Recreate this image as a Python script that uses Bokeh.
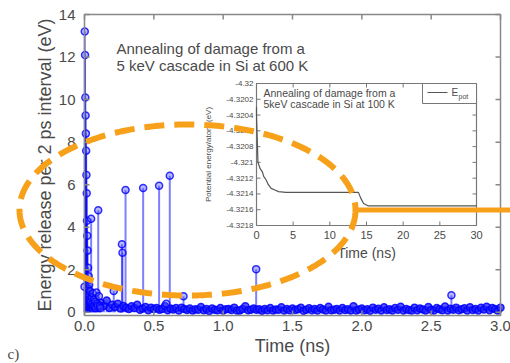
import numpy as np
from bokeh.plotting import figure
from bokeh.models import Range1d
from bokeh.core.properties import value
from bokeh.embed import file_html
from bokeh.resources import INLINE

# ---------------- data ----------------
cluster_t = [0.000, 0.002, 0.004, 0.006, 0.008, 0.010, 0.012, 0.014, 0.016, 0.018,
             0.020, 0.022, 0.024, 0.026, 0.028, 0.030, 0.032, 0.034, 0.036, 0.040,
             0.044, 0.048, 0.052, 0.056, 0.060, 0.064, 0.068, 0.072, 0.076, 0.080,
             0.086, 0.090, 0.094, 0.099, 0.104, 0.110, 0.115]
cluster_e = [1.2, 13.2, 12.1, 10.1, 9.25, 8.4, 7.6, 6.45, 5.6, 4.3,
             3.6, 2.9, 1.5, 2.1, 1.1, 1.7, 0.8, 1.3, 0.6, 1.0,
             0.5, 4.4, 0.7, 0.4, 0.9, 0.3, 0.6, 0.3, 0.5, 0.2,
             0.93, 0.4, 0.3, 4.8, 0.75, 0.3, 0.2]
peak_t = [0.211, 0.270, 0.274, 0.296, 0.423, 0.538, 0.590, 0.615, 0.714, 1.238, 2.646]
peak_e = [1.0, 3.2, 2.8, 5.75, 5.84, 5.95, 0.4, 6.42, 0.76, 2.03, 0.8]
base_start, base_step = 0.12, 0.02
base_e = [0.45, 0.30, 0.55, 0.20, 0.35, 0.25, 0.40, 0.18, 0.30, 0.22,
          0.15, 0.28, 0.20, 0.35, 0.12, 0.18, 0.25, 0.10, 0.22, 0.15,
          0.20, 0.12, 0.16, 0.30, 0.10, 0.18, 0.13, 0.20, 0.08, 0.22,
          0.15, 0.11, 0.18, 0.09, 0.14, 0.12, 0.25, 0.10, 0.16, 0.06,
          0.18, 0.12, 0.10, 0.20, 0.08, 0.14, 0.16, 0.11, 0.22, 0.09,
          0.09, 0.15, 0.28, 0.10, 0.12, 0.18, 0.12, 0.14, 0.07, 0.16,
          0.10, 0.20, 0.09, 0.13, 0.12, 0.24, 0.08, 0.15, 0.10, 0.18,
          0.11, 0.14, 0.22, 0.07, 0.12, 0.19, 0.10, 0.15, 0.08, 0.20,
          0.13, 0.09, 0.26, 0.10, 0.12, 0.16, 0.08, 0.20, 0.11, 0.14,
          0.09, 0.28, 0.08, 0.13, 0.18, 0.10, 0.14, 0.07, 0.22, 0.12,
          0.17, 0.09, 0.24, 0.11, 0.14, 0.08, 0.20, 0.12, 0.26, 0.09,
          0.15, 0.11, 0.08, 0.22, 0.10, 0.18, 0.13, 0.09, 0.25, 0.12,
          0.08, 0.20, 0.14, 0.10, 0.27, 0.09, 0.17, 0.12, 0.22, 0.10,
          0.14, 0.19, 0.08, 0.24, 0.11, 0.16, 0.09, 0.21, 0.13, 0.26,
          0.10, 0.20, 0.15, 0.09, 0.22]
x_ticks = [0.0, 0.5, 1.0, 1.5, 2.0, 2.5, 3.0]
x_labels = ["0.0", "0.5", "1.0", "1.5", "2.0", "2.5", "3.0"]
y_ticks = [0, 2, 4, 6, 8, 10, 12, 14]
y_labels = ["0", "2", "4", "6", "8", "10", "12", "14"]

inset_t = [0.0, 0.0, 0.2, 0.5, 0.8, 1.0, 1.3, 1.6, 2.0, 2.5, 3.0, 4.0, 13.9, 14.2, 14.6, 15.2, 30.0]
inset_e = [-4.3203, -4.3204, -4.3210, -4.32108, -4.32112, -4.32118, -4.32122, -4.32128, -4.32133,
           -4.32135, -4.32137, -4.32138, -4.32138, -4.32145, -4.32152, -4.32155, -4.32155]
inset_xticks = [0, 5, 10, 15, 20, 25, 30]
inset_xlabels = ["0", "5", "10", "15", "20", "25", "30"]
inset_yticks = [-4.32, -4.3202, -4.3204, -4.3206, -4.3208, -4.321, -4.3212, -4.3214, -4.3216, -4.3218]
inset_ylabels = ["-4.32", "-4.3202", "-4.3204", "-4.3206", "-4.3208", "-4.321",
                 "-4.3212", "-4.3214", "-4.3216", "-4.3218"]

# ---------------- layout constants (pixels) ----------------
W, H = 510, 363
FL, FR, FT, FB = 84, 500, 14, 315
X0, X1, Y0, Y1 = 0.0, 3.0, -0.15, 14.0
IL, IR, IT, IB = 256, 476, 83, 225
IX0, IX1, IY0, IY1 = 0.0, 30.0, -4.3218, -4.32

def mx(px):
    return X0 + (px - FL) / (FR - FL) * (X1 - X0)

def my(py):
    return Y0 + (FB - py) / (FB - FT) * (Y1 - Y0)

ixs = (IX1 - IX0) / (IR - IL)
iys = (IY1 - IY0) / (IB - IT)

def ix(px):
    return IX0 + (px - IL) * ixs

def iy(py):
    return IY1 - (py - IT) * iys

FONT = "Liberation Sans"
GREY = "#888888"
TXT = "#4a4a4a"
ORANGE = "#F7A11A"
txs = (X1 - X0) / (FR - FL)
tys = (Y1 - Y0) / (FB - FT)

# the canvas itself is the frame; the plot box is drawn inside it
p = figure(width=W, height=H, x_range=Range1d(mx(0), mx(W)), y_range=Range1d(my(H), my(0)),
           output_backend="svg", toolbar_location=None,
           x_axis_location=None, y_axis_location=None, min_border=0)
p.background_fill_color = "white"
p.border_fill_color = "white"
p.outline_line_color = None
p.grid.visible = False

# ---------------- main series ----------------
base_t = [round(base_start + base_step * i, 4) for i in range(len(base_e))]
t_all = cluster_t + peak_t + base_t
e_all = cluster_e + peak_e + base_e
zeros = [0.0] * len(t_all)
p.segment(x0=t_all, y0=zeros, x1=t_all, y1=e_all, line_color="#0000ff", line_alpha=0.5, line_width=2)
p.scatter(base_t, base_e, size=7, marker="circle", line_color="#0000ff", line_alpha=0.85,
          line_width=1.5, fill_color="#2020ff", fill_alpha=0.75)
p.scatter(cluster_t + peak_t, cluster_e + peak_e, size=7, marker="circle", line_color="#0000ff",
          line_alpha=0.8, line_width=1.5, fill_color="#4d4dff", fill_alpha=0.4)

# main plot box, ticks, labels
p.quad(left=[X0], right=[X1], bottom=[Y0], top=[Y1], fill_color=None,
       line_color=GREY, line_width=1.5)
nx, ny = len(x_ticks), len(y_ticks)
p.segment(x0=x_ticks, y0=[Y0] * nx, x1=x_ticks, y1=[Y0 + 5 * tys] * nx, line_color=GREY, line_width=1.5)
p.segment(x0=x_ticks, y0=[Y1] * nx, x1=x_ticks, y1=[Y1 - 5 * tys] * nx, line_color=GREY, line_width=1.5)
p.segment(x0=[X0] * ny, y0=y_ticks, x1=[X0 + 5 * txs] * ny, y1=y_ticks, line_color=GREY, line_width=1.5)
p.segment(x0=[X1] * ny, y0=y_ticks, x1=[X1 - 5 * txs] * ny, y1=y_ticks, line_color=GREY, line_width=1.5)
p.text(x=x_ticks, y=[my(FB + 5)] * nx, text=x_labels, text_font=value(FONT), text_font_size="15px",
       text_color=TXT, text_align="center", text_baseline="top")
p.text(x=[mx(FL - 9)] * ny, y=y_ticks, text=y_labels, text_font=value(FONT), text_font_size="15px",
       text_color=TXT, text_align="right", text_baseline="middle")
p.text(x=[(X0 + X1) / 2], y=[my(345)], text=["Time (ns)"], text_font=value(FONT),
       text_font_size="18px", text_color=TXT, text_align="center", text_baseline="middle")
p.text(x=[mx(44)], y=[my((FT + FB) / 2)], text=["Energy release per 2 ps interval (eV)"],
       angle=np.pi / 2, text_font=value(FONT), text_font_size="18px", text_color=TXT,
       text_align="center", text_baseline="middle")
p.text(x=[mx(7)], y=[my(353)], text=["c)"], text_font=value("Liberation Serif"),
       text_font_size="15px", text_color=TXT, text_align="left", text_baseline="middle")

# main annotation text
p.text(x=[mx(116), mx(116)], y=[my(48), my(65)],
       text=["Annealing of damage from a", "5 keV cascade in Si at 600 K"],
       text_font=value(FONT), text_font_size="15px", text_color=TXT,
       text_baseline="alphabetic", text_align="left")

# ---------------- inset ----------------
p.extra_x_ranges = {"ix": Range1d(ix(0), ix(W))}
p.extra_y_ranges = {"iy": Range1d(iy(H), iy(0))}
kw = dict(x_range_name="ix", y_range_name="iy")

p.quad(left=[IX0], right=[IX1], bottom=[IY0], top=[IY1], fill_color="white",
       line_color="#777777", line_width=1.2, **kw)
tlx = 4 * ixs
tly = 4 * iys
niy, nix = len(inset_yticks), len(inset_xticks)
p.segment(x0=[IX0] * niy, y0=inset_yticks, x1=[IX0 + tlx] * niy, y1=inset_yticks,
          line_color="#777777", line_width=1, **kw)
p.segment(x0=[IX1] * niy, y0=inset_yticks, x1=[IX1 - tlx] * niy, y1=inset_yticks,
          line_color="#777777", line_width=1, **kw)
p.segment(x0=inset_xticks, y0=[IY0] * nix, x1=inset_xticks, y1=[IY0 + tly] * nix,
          line_color="#777777", line_width=1, **kw)
p.segment(x0=inset_xticks, y0=[IY1] * nix, x1=inset_xticks, y1=[IY1 - tly] * nix,
          line_color="#777777", line_width=1, **kw)
p.line(inset_t, inset_e, line_color="#555555", line_width=1.2, **kw)

p.text(x=[ix(IL - 3)] * niy, y=inset_yticks, text=inset_ylabels,
       text_font=value(FONT), text_font_size="8px", text_color=TXT,
       text_align="right", text_baseline="middle", **kw)
p.text(x=inset_xticks, y=[iy(IB + 5)] * nix, text=inset_xlabels,
       text_font=value(FONT), text_font_size="11px", text_color=TXT,
       text_align="center", text_baseline="top", **kw)
p.text(x=[(IX0 + IX1) / 2], y=[iy(252)], text=["Time (ns)"],
       text_font=value(FONT), text_font_size="14px", text_color=TXT,
       text_align="center", text_baseline="middle", **kw)
p.text(x=[ix(208)], y=[(IY0 + IY1) / 2], text=["Potential energy/atom (eV)"], angle=np.pi / 2,
       text_font=value(FONT), text_font_size="8px", text_color=TXT,
       text_align="center", text_baseline="middle", **kw)
p.text(x=[ix(263), ix(263)], y=[iy(92), iy(103)],
       text=["Annealing of damage from a", "5keV cascade in Si at 100 K"],
       text_font=value(FONT), text_font_size="10.5px", text_color=TXT,
       text_align="left", text_baseline="middle", **kw)
# legend
p.quad(left=[ix(422)], right=[IX1], bottom=[iy(103)], top=[IY1], fill_color="white",
       line_color="#777777", line_width=1, **kw)
p.line([ix(427), ix(447)], [iy(92), iy(92)], line_color="#555555", line_width=1.2, **kw)
p.text(x=[ix(451)], y=[iy(92)], text=["E"], text_font=value(FONT), text_font_size="10px",
       text_color=TXT, text_baseline="middle", **kw)
p.text(x=[ix(458)], y=[iy(96)], text=["pot"], text_font=value(FONT), text_font_size="7px",
       text_color=TXT, text_baseline="middle", **kw)

# ---------------- highlight annotations ----------------
cx, cy, ra, rb = 187, 209.5, 168, 85.5
th = np.linspace(0, 2 * np.pi, 361)
ex = [mx(cx + ra * np.cos(a)) for a in th]
ey = [my(cy + rb * np.sin(a)) for a in th]
p.line(ex, ey, line_color=ORANGE, line_width=6, line_dash="20 10")
p.line([mx(cx + ra - 2), mx(W + 5)], [my(209.5), my(209.5)], line_color=ORANGE, line_width=5)

open("out.html", "w").write(file_html(p, INLINE))
